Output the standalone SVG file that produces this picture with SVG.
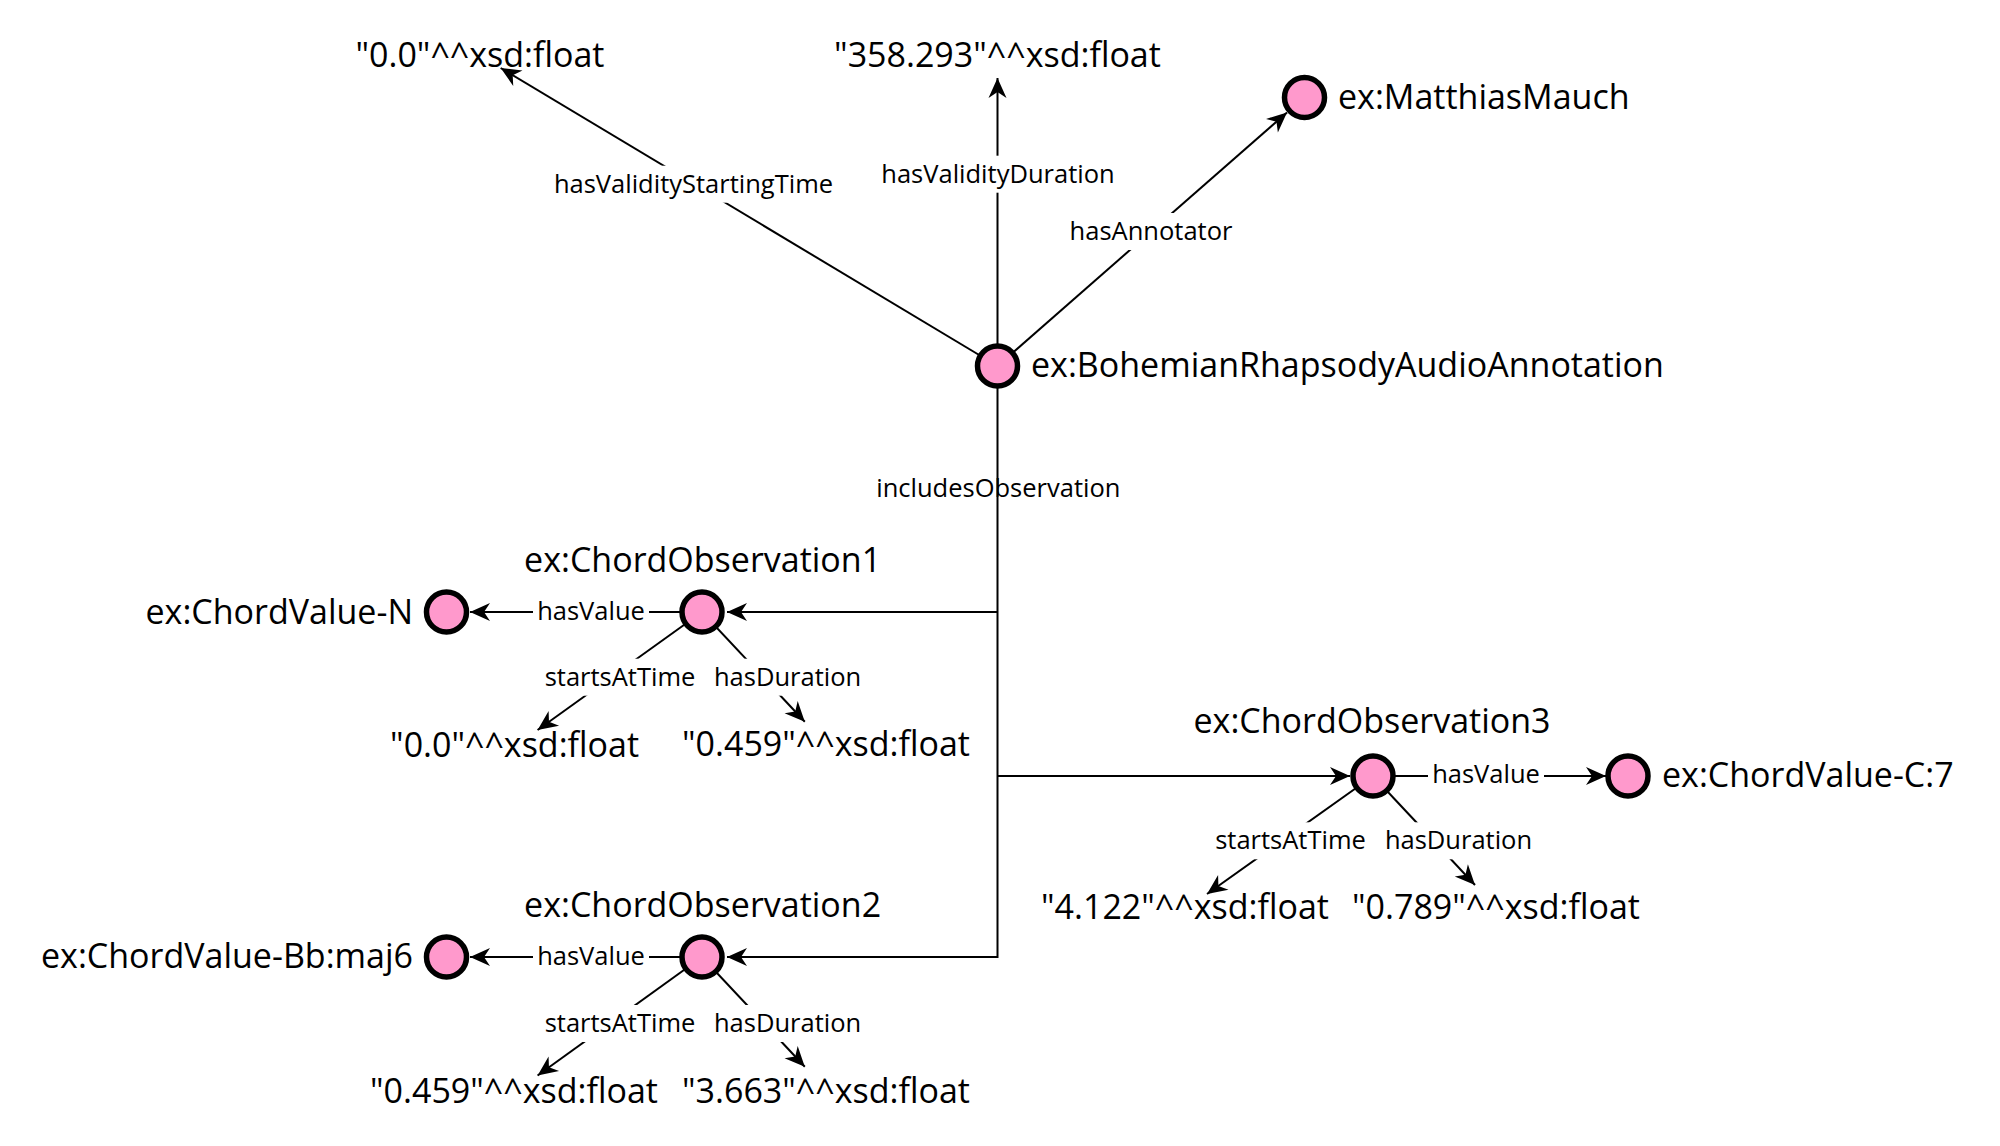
<svg xmlns="http://www.w3.org/2000/svg" width="2000" height="1146" viewBox="0 0 2000 1146">
<style>
.bg{fill:#ffffff}
.edge{stroke:#000;stroke-width:2;fill:none}
.node{fill:#ff99cc;stroke:#000;stroke-width:5.5}
.big{font-family:"Open Sans","Liberation Sans",sans-serif;font-size:34px;fill:#000}
.small{font-family:"Open Sans","Liberation Sans",sans-serif;font-size:25.5px;fill:#000}
.lbg{fill:#fff}
.m{text-anchor:middle}
.e{text-anchor:end}
</style>
<defs>
<marker id="arr" markerUnits="userSpaceOnUse" markerWidth="24" markerHeight="22" viewBox="-22 -11 24 22" refX="0" refY="0" orient="auto">
<path d="M0,0 L-20,-9 L-14,0 L-20,9 Z" fill="#000"/>
</marker>
</defs>
<rect class="bg" x="0" y="0" width="2000" height="1146"/>
<g id="connectors">
<path class="edge" d="M997.5,366 L500.7,68" marker-end="url(#arr)"/>
<path class="edge" d="M997.5,366 L997.5,78" marker-end="url(#arr)"/>
<path class="edge" d="M997.5,366 L1287,112.5" marker-end="url(#arr)"/>
<path class="edge" d="M997.5,366 V957 H727" marker-end="url(#arr)"/>
<path class="edge" d="M997.5,612 H727" marker-end="url(#arr)"/>
<path class="edge" d="M997.5,776 H1350" marker-end="url(#arr)"/>
<path class="edge" d="M702,612 H470" marker-end="url(#arr)"/>
<path class="edge" d="M702,612 L537.6,730" marker-end="url(#arr)"/>
<path class="edge" d="M702,612 L804.8,721.7" marker-end="url(#arr)"/>
<path class="edge" d="M702,957 H470" marker-end="url(#arr)"/>
<path class="edge" d="M702,957 L537.6,1075.5" marker-end="url(#arr)"/>
<path class="edge" d="M702,957 L804.8,1066.7" marker-end="url(#arr)"/>
<path class="edge" d="M1373,776 H1606" marker-end="url(#arr)"/>
<path class="edge" d="M1373,776 L1207,894" marker-end="url(#arr)"/>
<path class="edge" d="M1373,776 L1475,885" marker-end="url(#arr)"/>
<g id="edge-labels">
<rect class="lbg" x="551" y="165.7" width="285" height="37"/>
<text class="small m" x="693.5" y="192.7">hasValidityStartingTime</text>
<rect class="lbg" x="879" y="155.7" width="238" height="37"/>
<text class="small m" x="998" y="182.7">hasValidityDuration</text>
<rect class="lbg" x="1069" y="213" width="165" height="37"/>
<text class="small m" x="1151" y="240">hasAnnotator</text>
<text class="small m" x="998.3" y="496.7">includesObservation</text>
<rect class="lbg" x="533" y="592.5" width="116" height="37"/>
<text class="small m" x="591" y="619.5">hasValue</text>
<rect class="lbg" x="541" y="658.7" width="158" height="37"/>
<text class="small m" x="620" y="685.7">startsAtTime</text>
<rect class="lbg" x="713" y="658.7" width="149" height="37"/>
<text class="small m" x="787.6" y="685.7">hasDuration</text>
<rect class="lbg" x="533" y="938" width="116" height="37"/>
<text class="small m" x="591" y="965">hasValue</text>
<rect class="lbg" x="541" y="1005" width="158" height="37"/>
<text class="small m" x="620" y="1032">startsAtTime</text>
<rect class="lbg" x="713" y="1005" width="149" height="37"/>
<text class="small m" x="787.6" y="1032">hasDuration</text>
<rect class="lbg" x="1428" y="756.3" width="116" height="37"/>
<text class="small m" x="1486" y="783.3">hasValue</text>
<rect class="lbg" x="1211.5" y="822.3" width="158" height="37"/>
<text class="small m" x="1290.5" y="849.3">startsAtTime</text>
<rect class="lbg" x="1384" y="822.3" width="149" height="37"/>
<text class="small m" x="1458.5" y="849.3">hasDuration</text>
</g>
</g>
<g id="lit-start">
<text class="big m" x="480" y="66.7">"0.0"^^xsd:float</text>
</g>
<g id="lit-duration">
<text class="big m" x="997.5" y="66.7">"358.293"^^xsd:float</text>
</g>
<g id="node-mauch">
<circle class="node" cx="1304.5" cy="97.5" r="20"/>
<text class="big" x="1338" y="109">ex:MatthiasMauch</text>
</g>
<g id="node-annotation">
<circle class="node" cx="997.5" cy="366" r="20"/>
<text class="big" x="1031" y="377">ex:BohemianRhapsodyAudioAnnotation</text>
</g>
<g id="node-obs1">
<circle class="node" cx="702" cy="612" r="20"/>
<text class="big m" x="702.6" y="571.7">ex:ChordObservation1</text>
</g>
<g id="node-valueN">
<circle class="node" cx="446.5" cy="612" r="20"/>
<text class="big e" x="413" y="624">ex:ChordValue-N</text>
</g>
<g id="lit-obs1-start">
<text class="big m" x="514.6" y="756.5">"0.0"^^xsd:float</text>
</g>
<g id="lit-obs1-dur">
<text class="big m" x="826" y="755.5">"0.459"^^xsd:float</text>
</g>
<g id="node-obs2">
<circle class="node" cx="702" cy="957" r="20"/>
<text class="big m" x="702.6" y="917.3">ex:ChordObservation2</text>
</g>
<g id="node-valueBb">
<circle class="node" cx="446.5" cy="957" r="20"/>
<text class="big e" x="413" y="968.3">ex:ChordValue-Bb:maj6</text>
</g>
<g id="lit-obs2-start">
<text class="big m" x="514" y="1102.7">"0.459"^^xsd:float</text>
</g>
<g id="lit-obs2-dur">
<text class="big m" x="826" y="1102.7">"3.663"^^xsd:float</text>
</g>
<g id="node-obs3">
<circle class="node" cx="1373" cy="776" r="20"/>
<text class="big m" x="1372" y="733.3">ex:ChordObservation3</text>
</g>
<g id="node-valueC7">
<circle class="node" cx="1628" cy="776" r="20"/>
<text class="big" x="1662" y="786.7">ex:ChordValue-C:7</text>
</g>
<g id="lit-obs3-start">
<text class="big m" x="1185" y="919.3">"4.122"^^xsd:float</text>
</g>
<g id="lit-obs3-dur">
<text class="big m" x="1496" y="919.3">"0.789"^^xsd:float</text>
</g>
</svg>
